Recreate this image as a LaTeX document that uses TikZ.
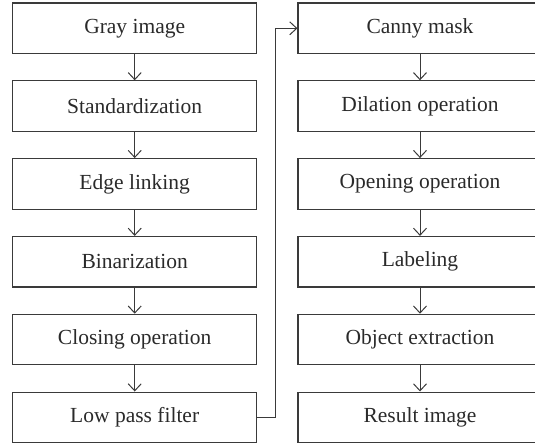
\documentclass[tikz,border=0pt]{standalone}
\usepackage{fontspec}
\setmainfont{Liberation Serif}
\usetikzlibrary{arrows.meta}
\definecolor{linecol}{HTML}{3A3A3A}
\definecolor{textcol}{HTML}{2A2A2A}
\tikzset{
  stepbox/.style={draw=linecol, line width=1.1pt, minimum width=244pt, minimum height=50.5pt,
    inner sep=0pt, text=textcol, font=\fontsize{21.5}{25}\selectfont, anchor=center},
  flow/.style={draw=linecol, line width=1pt, -{Straight Barb[length=7pt,width=13pt,line width=1pt]}}
}
\begin{document}
\begin{tikzpicture}[x=1pt,y=1pt]
\useasboundingbox (0,0) rectangle (535,-444);
\clip (0,0) rectangle (535,-444);
\node[stepbox] (a1) at (134.7,-28.3) {Gray image};
\node[stepbox] (a2) at (134.7,-106.1) {Standardization};
\node[stepbox] (a3) at (134.7,-183.9) {Edge linking};
\node[stepbox] (a4) at (134.7,-261.7) {Binarization};
\node[stepbox] (a5) at (134.7,-339.5) {Closing operation};
\node[stepbox] (a6) at (134.7,-417.3) {Low pass filter};
\node[stepbox] (b1) at (420,-28.3) {Canny mask};
\node[stepbox] (b2) at (420,-106.1) {Dilation operation};
\node[stepbox] (b3) at (420,-183.9) {Opening operation};
\node[stepbox] (b4) at (420,-261.7) {Labeling};
\node[stepbox] (b5) at (420,-339.5) {Object extraction};
\node[stepbox] (b6) at (420,-417.3) {Result image};
\foreach \i/\j in {1/2,2/3,3/4,4/5,5/6}{
  \draw[flow] (a\i) -- (a\j);
  \draw[flow] (b\i) -- (b\j);
}
\coordinate (c1) at (275.7,-417.3);
\coordinate (c2) at (275.7,-28.3);
\draw[flow] (a6.east) -- (c1) -- (c2) -- (b1.west);
\end{tikzpicture}
\end{document}
